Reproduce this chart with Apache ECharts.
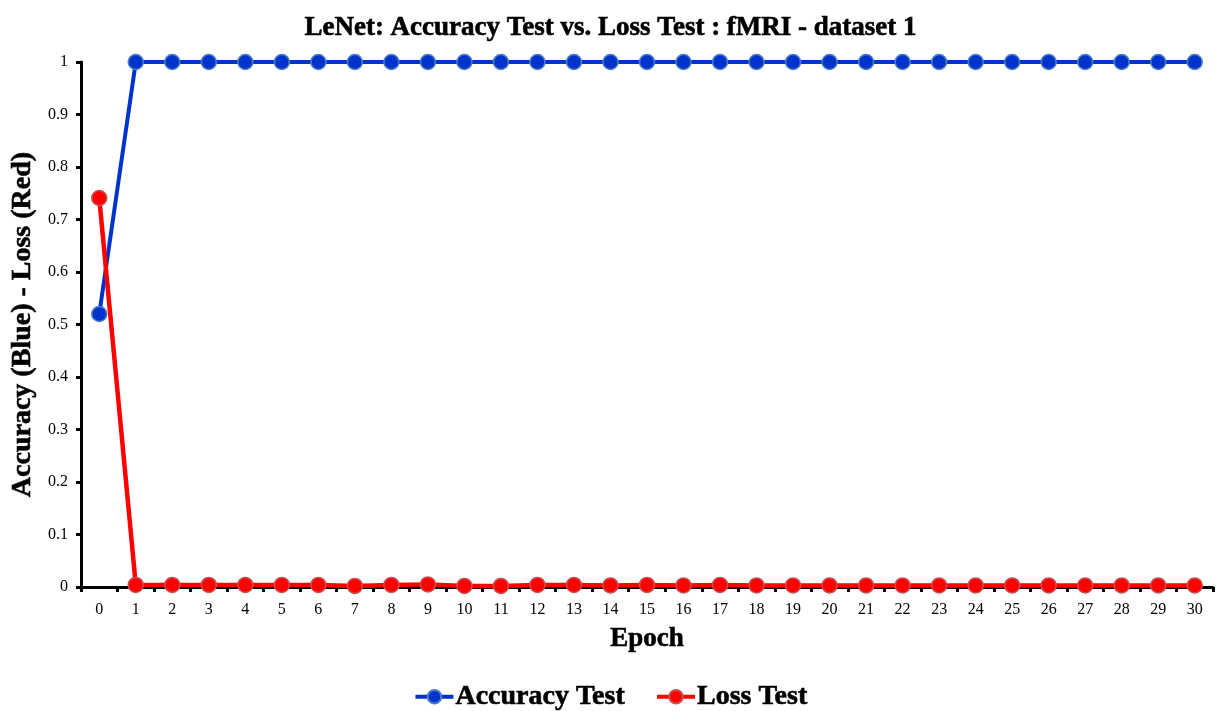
<!DOCTYPE html>
<html>
<head>
<meta charset="utf-8">
<script src="https://cdn.jsdelivr.net/npm/echarts@6/dist/echarts.min.js"></script>
<style>html,body{margin:0;padding:0;background:#fff}#c{width:1221px;height:711px}</style>
</head>
<body>
<div id="c"></div>
<script>
const epochs = ['0','1','2','3','4','5','6','7','8','9','10','11','12','13','14','15','16','17','18','19','20','21','22','23','24','25','26','27','28','29','30'];
const accuracyTest = [0.52,1,1,1,1,1,1,1,1,1,1,1,1,1,1,1,1,1,1,1,1,1,1,1,1,1,1,1,1,1,1];
const lossTest = [0.741,0.004,0.004,0.004,0.004,0.004,0.004,0.002,0.004,0.005,0.002,0.002,0.004,0.004,0.003,0.004,0.003,0.004,0.003,0.003,0.003,0.003,0.003,0.003,0.003,0.003,0.003,0.003,0.003,0.003,0.003];

const serif = 'Liberation Serif';
const boldText = (size) => ({fontFamily: serif, fontSize: size, fontWeight: 'bold', color: '#000',
  textBorderColor: '#000', textBorderWidth: 0.6});
const chart = echarts.init(document.getElementById('c'), null, {renderer: 'canvas'});
chart.setOption({
  animation: false,
  backgroundColor: '#fff',
  title: {
    text: 'LeNet: Accuracy Test vs. Loss Test : fMRI - dataset 1',
    left: 'center', top: 10,
    textStyle: boldText(27)
  },
  legend: {
    bottom: 0, left: 'center', padding: 0,
    itemWidth: 38, itemHeight: 17, itemGap: 30,
    lineStyle: {width: 4},
    textStyle: Object.assign(boldText(28), {padding: [0, 0, 0, -3]}),
    data: ['Accuracy Test', 'Loss Test']
  },
  grid: {left: 81, right: 8, top: 62, bottom: 124, containLabel: false},
  xAxis: {
    type: 'category', data: epochs, boundaryGap: true,
    name: 'Epoch', nameLocation: 'middle', nameGap: 39,
    nameTextStyle: boldText(27),
    axisLine: {lineStyle: {color: '#000', width: 3}},
    axisTick: {show: true, alignWithLabel: false, length: 5, lineStyle: {color: '#000', width: 3}},
    axisLabel: {fontFamily: serif, fontSize: 16, color: '#000', margin: 15, interval: 0},
    splitLine: {show: false}
  },
  yAxis: {
    type: 'value', min: 0, max: 1, interval: 0.1,
    name: 'Accuracy (Blue) - Loss (Red)', nameLocation: 'middle', nameGap: 39,
    nameTextStyle: boldText(28),
    axisLine: {show: true, lineStyle: {color: '#000', width: 3}},
    axisTick: {show: true, length: 5, lineStyle: {color: '#000', width: 3}},
    axisLabel: {fontFamily: serif, fontSize: 16, color: '#000', margin: 13,
      formatter: v => String(Math.round(v * 10) / 10)},
    splitLine: {show: false}
  },
  series: [
    {
      name: 'Accuracy Test', type: 'line', data: accuracyTest,
      symbol: 'circle', symbolSize: 15,
      lineStyle: {color: '#0033CC', width: 4},
      itemStyle: {color: '#0033CC', borderColor: '#4A7FC0', borderWidth: 1.5},
      z: 2
    },
    {
      name: 'Loss Test', type: 'line', data: lossTest,
      symbol: 'circle', symbolSize: 15,
      lineStyle: {color: '#FF0000', width: 4.5},
      itemStyle: {color: '#FF0000', borderColor: '#C85050', borderWidth: 1.5},
      z: 3
    }
  ]
});
</script>
</body>
</html>
